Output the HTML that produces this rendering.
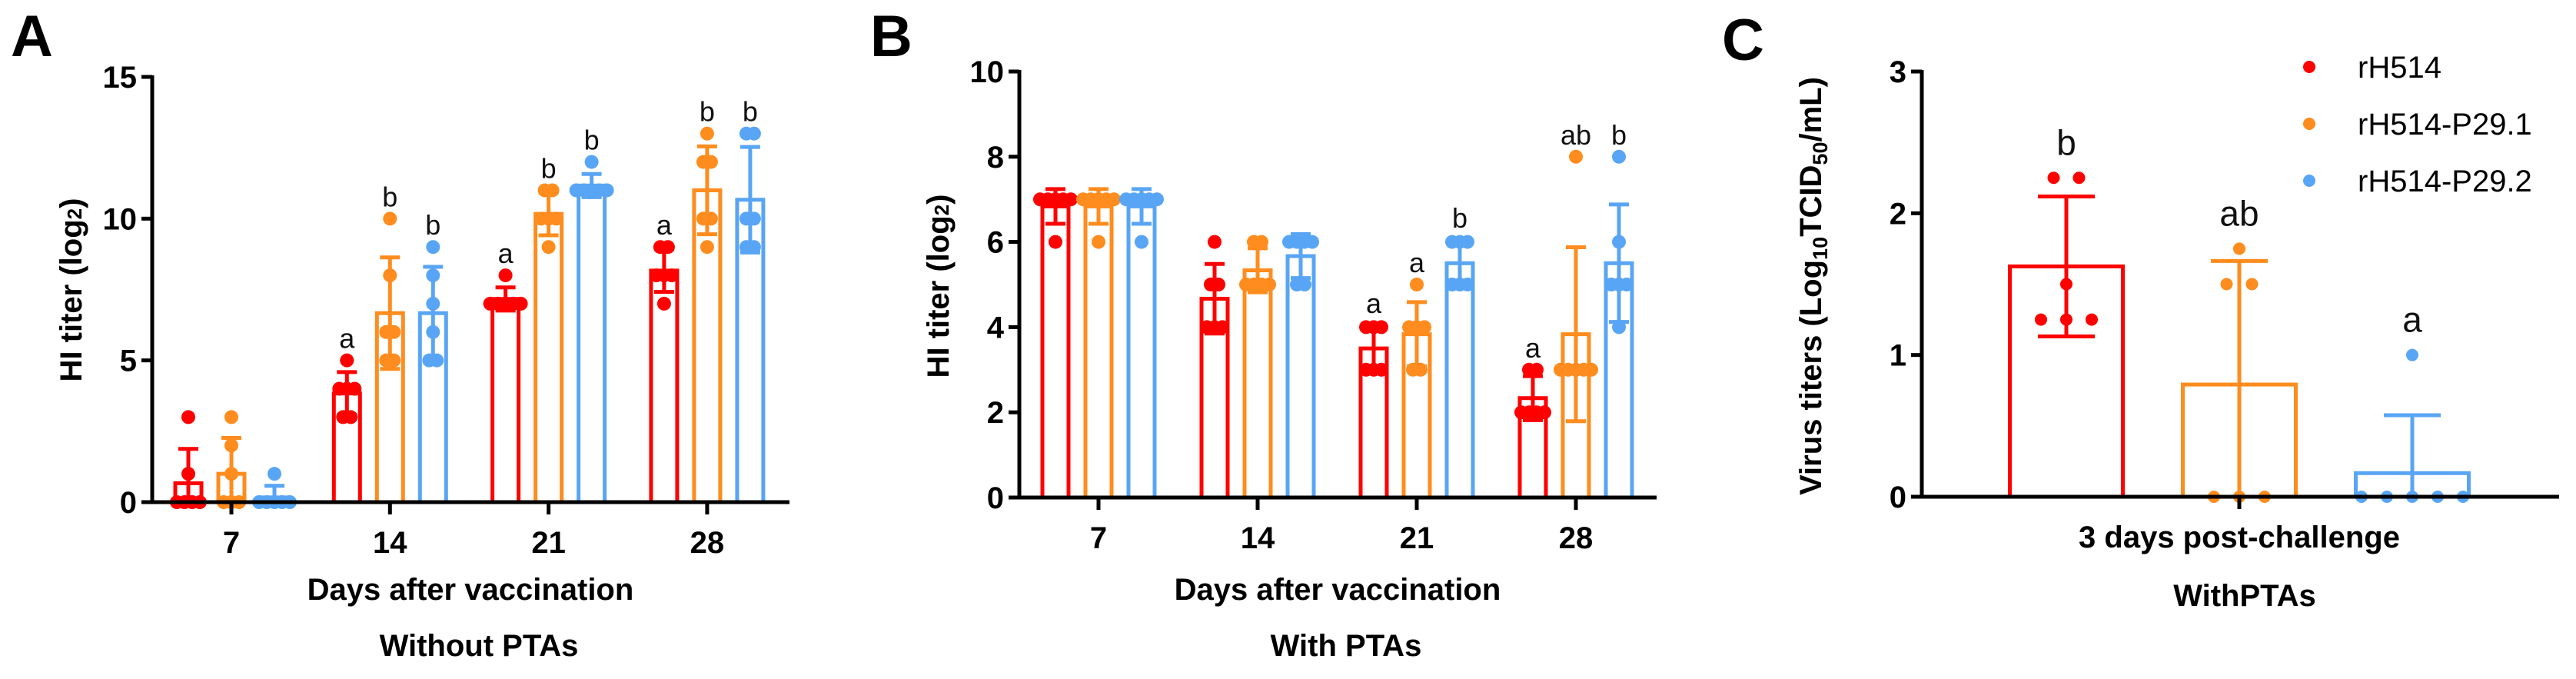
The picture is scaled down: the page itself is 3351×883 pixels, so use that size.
<!DOCTYPE html>
<html><head><meta charset="utf-8"><style>
html,body{margin:0;padding:0;background:#fff;}
svg{display:block;font-family:"Liberation Sans",Arial,sans-serif;}
</style></head><body>
<svg id="fig" width="3351" height="883" viewBox="0 0 3351 883" xmlns="http://www.w3.org/2000/svg"></svg>
<script>
// ---- Data ----
const groupsAB = ['7','14','21','28'];
const seriesNames = ['rH514','rH514-P29.1','rH514-P29.2'];
const colors = ['#FF0000','#FF8C1E','#59A5F5'];
// Panel A: Without PTAs (HI titer log2), points per group
const aRed    = [[3,1,0,0,0,0],[5,4,4,4,3,3],[8,7,7,7,7,7],[9,9,8,8,8,7]];
const aOrange = [[3,2,1,0,0,0],[10,8,6,6,5,5],[11,11,10,10,10,9],[13,12,12,10,10,9]];
const aBlue   = [[1,0,0,0,0,0],[9,8,7,6,5,5],[12,11,11,11,11,11],[13,13,10,10,9,9]];
const aLetters = [['','',''],['a','b','b'],['a','b','b'],['a','b','b']];
const aTicks = [0,5,10,15];
// Panel B: With PTAs
const bRed    = [[7,7,7,7,7,6],[6,5,5,4,4,4],[4,4,4,3,3,3],[3,3,2,2,2,2]];
const bOrange = [[7,7,7,7,7,6],[6,6,5,5,5,5],[5,4,4,4,3,3],[8,3,3,3,3,3]];
const bBlue   = [[7,7,7,7,7,6],[6,6,6,6,5,5],[6,6,6,5,5,5],[8,6,5,5,5,4]];
const bLetters = [['','',''],['','',''],['a','a','b'],['a','ab','b']];
const bTicks = [0,2,4,6,8,10];
// Panel C: virus titers
const groupsC = ['3 days post-challenge'];
const cRed    = [[2.25,2.25,1.5,1.25,1.25,1.25]];
const cOrange = [[1.75,1.5,1.5,0,0,0]];
const cBlue   = [[1,0,0,0,0,0]];
const cLetters = [['b','ab','a']];
const cTicks = [0,1,2,3];

const NS='http://www.w3.org/2000/svg';
const svg=document.getElementById('fig');
function mk(tag,attrs,parent){const e=document.createElementNS(NS,tag);for(const k in attrs)e.setAttribute(k,attrs[k]);(parent||svg).appendChild(e);return e;}
function mean(a){return a.reduce((s,v)=>s+v,0)/a.length;}
function sd(a){const m=mean(a);return Math.sqrt(a.reduce((s,v)=>s+(v-m)*(v-m),0)/(a.length-1));}

function panel(o){
  const g=mk('g',{});
  
  
  const y=v=>o.y0-v*(o.y0-o.yTop)/o.yMax;
  const gx=i=>o.gx0+i*o.gstep;
  const series=[o.s0,o.s1,o.s2];
  o.groups.forEach((lab,i)=>{
    series.forEach((pts,s)=>{
      const cx=gx(i)+(s-1)*o.off, m=mean(pts[i]), d=sd(pts[i]);
      const lo=Math.max(m-d,0);
      const bar=mk('rect',{x:cx-o.bw/2,y:y(m),width:o.bw,height:y(0)-y(m),fill:'none',stroke:colors[s],'stroke-width':o.sw},g);
      
      
      const eb=mk('g',{stroke:colors[s],'stroke-width':o.sw},g);
      
      
      mk('line',{x1:cx,x2:cx,y1:y(lo),y2:y(m+d)},eb);
      mk('line',{x1:cx-o.cap/2,x2:cx+o.cap/2,y1:y(m+d),y2:y(m+d)},eb);
      if(m-d>0) mk('line',{x1:cx-o.cap/2,x2:cx+o.cap/2,y1:y(lo),y2:y(lo)},eb);
      const counts={};pts[i].forEach(v=>counts[v]=(counts[v]||0)+1);
      const seen={};
      pts[i].forEach(v=>{const n=counts[v];const k=(seen[v]=(seen[v]||0)+1)-1;
        const dx=(k-(n-1)/2)*o.spread;
        const c=mk('circle',{cx:cx+dx,cy:y(v),r:o.r,fill:colors[s]},g);
        
        
      });
      const L=o.letters[i][s];
      if(L){const top=Math.max(Math.max(...pts[i]),m+d);
        const t=mk('text',{x:cx,y:y(top)-o.lOff,'text-anchor':'middle','font-size':o.lfs,fill:'#111'},g);
        t.textContent=L;
        
        }
    });
    mk('line',{x1:gx(i),x2:gx(i),y1:o.y0,y2:o.y0+16,stroke:'#000','stroke-width':5},g);
    if(o.showTickLab){
      const t=mk('text',{x:gx(i),y:o.y0+66,'text-anchor':'middle','font-size':40,'font-weight':'bold'},g);
      t.textContent=lab;
      
      
    }
  });
  const ax=mk('g',{stroke:'#000','stroke-width':5},g);
  
  
  mk('line',{x1:o.ax,x2:o.ax,y1:o.yTop-2,y2:o.y0+2},ax);
  mk('line',{x1:o.ax-2,x2:o.axEnd,y1:o.y0,y2:o.y0},ax);
  o.ticks.forEach(v=>{
    mk('line',{x1:o.ax-14,x2:o.ax,y1:y(v),y2:y(v)},ax);
    const t=mk('text',{x:o.ax-20,y:y(v)+14,'text-anchor':'end','font-size':40,'font-weight':'bold',stroke:'none'},g);
    t.textContent=v;
    
    
  });
}

panel({name:'panel-a',key:'a',groups:groupsAB,s0:aRed,s1:aOrange,s2:aBlue,letters:aLetters,ticks:aTicks,
  ax:198,axEnd:1027,y0:653,yTop:100,yMax:15,gx0:301,gstep:206.3,off:56,bw:34,sw:5,cap:26,r:9,spread:10,lfs:36,lOff:16,showTickLab:true});
panel({name:'panel-b',key:'b',groups:groupsAB,s0:bRed,s1:bOrange,s2:bBlue,letters:bLetters,ticks:bTicks,
  ax:1326,axEnd:2155,y0:647,yTop:93,yMax:10,gx0:1429,gstep:207,off:56,bw:34,sw:5,cap:26,r:9,spread:10,lfs:36,lOff:16,showTickLab:true});
panel({name:'panel-c',key:'c',groups:groupsC,s0:cRed,s1:cOrange,s2:cBlue,letters:cLetters,ticks:cTicks,
  ax:2500,axEnd:3329,y0:646,yTop:93,yMax:3,gx0:2913,gstep:0,off:225,bw:147,sw:5,cap:74,r:8,spread:33,lfs:46,lOff:30,showTickLab:false});
</script>
<svg style="position:absolute;left:0;top:0" width="3351" height="883" xmlns="http://www.w3.org/2000/svg" font-family="Liberation Sans, Arial, sans-serif">
  <text x="14" y="73" font-size="76" font-weight="bold">A</text>
  <text x="1132" y="73" font-size="76" font-weight="bold">B</text>
  <text x="2240" y="78" font-size="76" font-weight="bold">C</text>

  <text transform="translate(106,377) rotate(-90)" text-anchor="middle" font-size="40" font-weight="bold">HI titer (log<tspan font-size="26">2</tspan>)</text>
  <text x="612" y="780" text-anchor="middle" font-size="40" font-weight="bold">Days after vaccination</text>
  <text x="623" y="853" text-anchor="middle" font-size="40" font-weight="bold">Without PTAs</text>

  <text transform="translate(1234,372) rotate(-90)" text-anchor="middle" font-size="40" font-weight="bold">HI titer (log<tspan font-size="26">2</tspan>)</text>
  <text x="1740" y="780" text-anchor="middle" font-size="40" font-weight="bold">Days after vaccination</text>
  <text x="1751" y="853" text-anchor="middle" font-size="40" font-weight="bold">With PTAs</text>

  <text transform="translate(2369,372) rotate(-90)" text-anchor="middle" font-size="40" font-weight="bold">Virus titers (Log<tspan font-size="27" dy="8">10</tspan><tspan dy="-8">TCID</tspan><tspan font-size="27" dy="8">50</tspan><tspan dy="-8">/mL)</tspan></text>
  <text x="2913" y="712" text-anchor="middle" font-size="40" font-weight="bold">3 days post-challenge</text>
  <text x="2920" y="788" text-anchor="middle" font-size="40" font-weight="bold">WithPTAs</text>

  <g font-size="40">
    <g><circle cx="3004" cy="87" r="8" fill="#FF0000"/><text x="3067" y="101">rH514</text></g>
    <g><circle cx="3004" cy="161" r="8" fill="#FF8C1E"/><text x="3067" y="175">rH514-P29.1</text></g>
    <g><circle cx="3004" cy="235" r="8" fill="#59A5F5"/><text x="3067" y="249">rH514-P29.2</text></g>
  </g>
</svg>
</body></html>
